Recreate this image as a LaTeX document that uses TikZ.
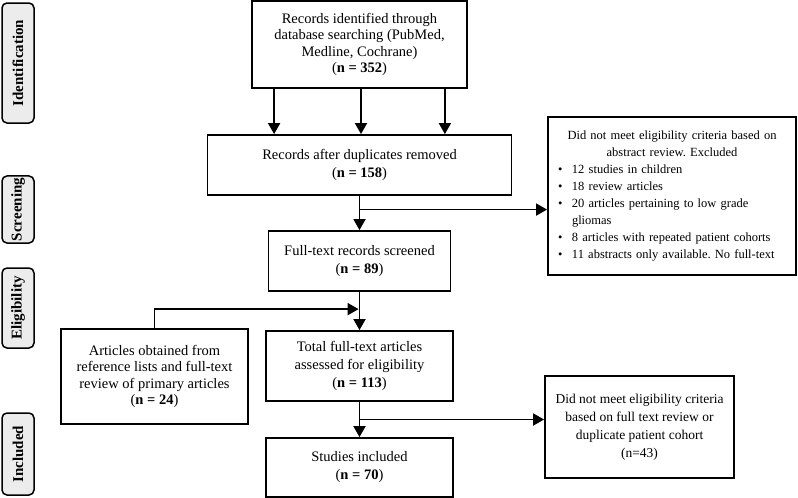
\documentclass[tikz,border=0pt]{standalone}
\usepackage{fontspec}
\setmainfont{Liberation Serif}
\usetikzlibrary{arrows.meta}
\tikzstyle{box} = [rectangle, draw=black, line width=1.8pt, align=center, inner sep=4pt, font=\fontsize{14.5}{18}\selectfont]
\tikzstyle{phase} = [rectangle, rounded corners=5pt, draw=black, line width=1.5pt, fill=gray!15, rotate=90, minimum height=32pt, inner sep=2pt, font=\fontsize{15}{16}\selectfont\bfseries]
\tikzstyle{flow} = [line width=1.8pt, -{Triangle[length=11pt,width=12pt]}]
\newcommand{\bul}[1]{\par\hangindent=14pt\hangafter=1\noindent\makebox[14pt][l]{\textbullet}#1}
\newcommand{\bulcont}[1]{\par\noindent\hspace*{14pt}#1}
\frenchspacing

\begin{document}
\begin{tikzpicture}[x=1pt, y=-1pt]
\useasboundingbox (0,0) rectangle (798,498);

% phases
\node (ident) [phase, minimum width=120pt] at (18,63) {Identification};
\node (screen) [phase, minimum width=65pt] at (18,209.5) {Screening};
\node (elig) [phase, minimum width=80pt] at (18,308) {Eligibility};
\node (incl) [phase, minimum width=82pt] at (18,454) {Included};

% boxes
\node (rec) [box, minimum width=215pt, minimum height=87pt, font=\fontsize{14.5}{16.5}\selectfont] at (359.5,44.5) {Records identified through\\database searching (PubMed,\\Medline, Cochrane)\\(\textbf{n = 352})};
\node (dup) [box, minimum width=304pt, minimum height=60pt] at (359.5,165) {Records after duplicates removed\\(\textbf{n = 158})};
\node (scr) [box, minimum width=182pt, minimum height=60pt] at (359.5,261) {Full-text records screened\\(\textbf{n = 89})};
\node (excl1) [box, text width=228pt, inner sep=10pt, minimum height=158pt, align=left, font=\fontsize{12.5}{17}\selectfont] at (672,196) {{\centering Did not meet eligibility criteria based on\\abstract review. Excluded\par}\raggedright
\bul{12 studies in children}
\bul{18 review articles}
\bul{20 articles pertaining to low grade}
\bulcont{gliomas}
\bul{8 articles with repeated patient cohorts}
\bul{11 abstracts only available. No full-text}};
\node (refs) [box, minimum width=187pt, minimum height=95pt, font=\fontsize{14.5}{16.5}\selectfont] at (154.5,376.5) {Articles obtained from\\reference lists and full-text\\review of primary articles\\(\textbf{n = 24})};
\node (tot) [box, minimum width=187pt, minimum height=70pt] at (359.5,366) {Total full-text articles\\assessed for eligibility\\(\textbf{n = 113})};
\node (stud) [box, minimum width=187pt, minimum height=59pt] at (359.5,467.5) {Studies included\\(\textbf{n = 70})};
\node (excl2) [box, minimum width=189pt, minimum height=102pt, font=\fontsize{13.5}{18}\selectfont] at (639.5,427) {Did not meet eligibility criteria\\based on full text review or\\duplicate patient cohort\\(n=43)};

% connectors
\draw[flow] ([xshift=23pt]rec.south west) -- ([xshift=23pt]rec.south west |- dup.north);
\draw[flow] ([xshift=1.5pt]rec.south) -- ([xshift=1.5pt]rec.south |- dup.north);
\draw[flow] ([xshift=-23pt]rec.south east) -- ([xshift=-23pt]rec.south east |- dup.north);

\draw[flow] (dup) -- (scr);
\path (dup.south) -- (scr.north) coordinate[pos=0.4] (b1);
\draw[flow] (b1) -- (b1 -| excl1.west);

\draw[flow] (scr) -- (tot);
\path (scr.south) -- (tot.north) coordinate[pos=0.45] (b2);
\draw[flow, shorten >=0.9pt] (refs.north) |- (b2);

\draw[flow] (tot) -- (stud);
\path (tot.south) -- (stud.north) coordinate[pos=0.5] (b3);
\draw[flow] (b3) -- (b3 -| excl2.west);

\end{tikzpicture}
\end{document}
